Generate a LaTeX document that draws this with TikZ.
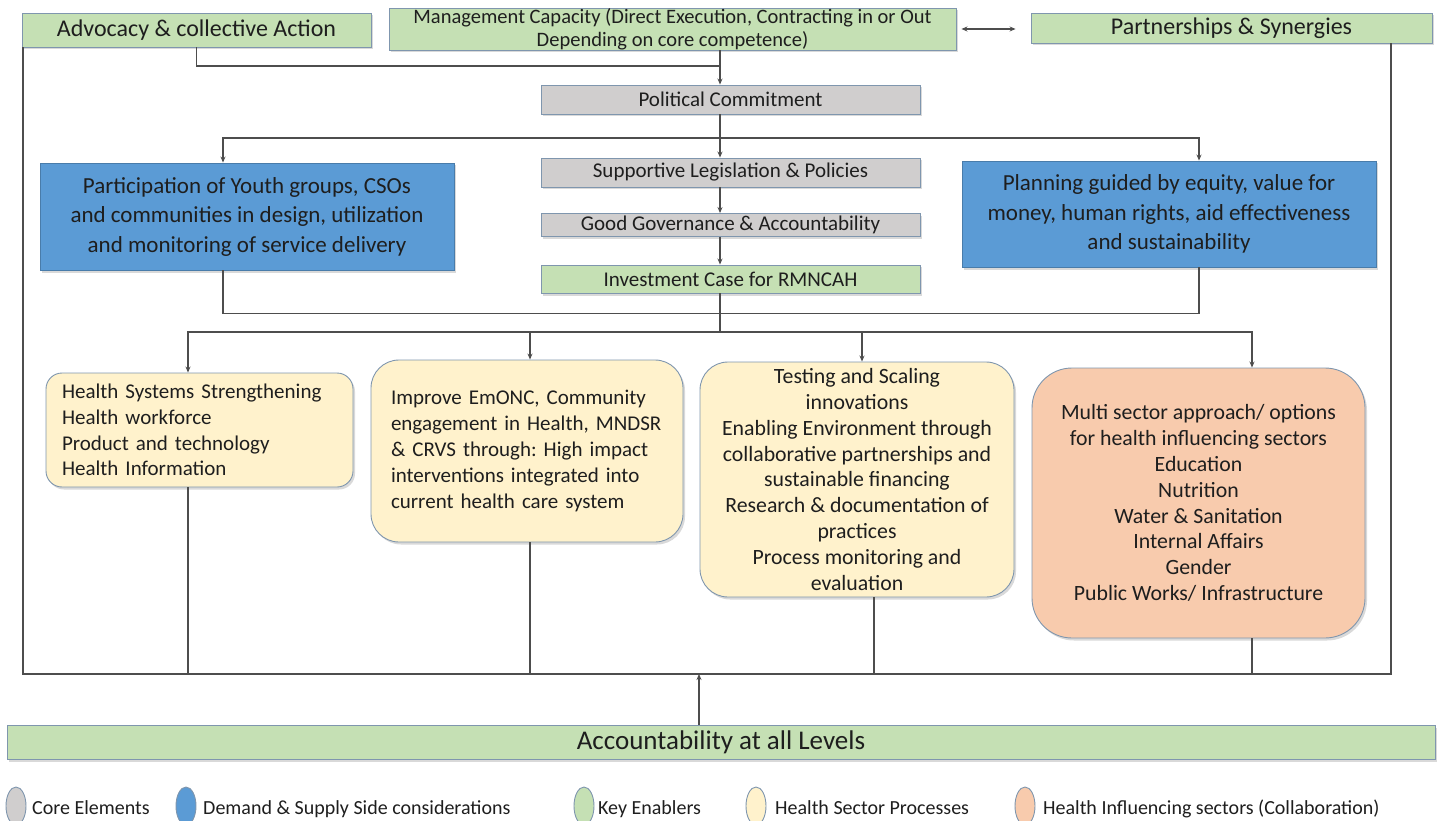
\documentclass[tikz,border=0pt]{standalone}
\usepackage{fontspec}
\setmainfont{Carlito}
\usetikzlibrary{arrows.meta,shadows,calc,shapes.geometric}
\definecolor{kgreen}{HTML}{C5E0B4}
\definecolor{kgray}{HTML}{D0CECE}
\definecolor{kblue}{HTML}{5B9BD5}
\definecolor{kyel}{HTML}{FFF2CC}
\definecolor{korange}{HTML}{F8CBAD}
\definecolor{kborder}{HTML}{7F96AE}
\definecolor{kline}{HTML}{4D4D4D}
\definecolor{ktext}{HTML}{1E1E1E}
\frenchspacing
\tikzset{
 box/.style={draw=kborder, line width=0.9pt, inner sep=0pt, text=ktext,
   drop shadow={shadow xshift=2pt,shadow yshift=-2.5pt,opacity=0.3}},
 greenbox/.style={box, fill=kgreen},
 graybox/.style={box, fill=kgray},
 bluebox/.style={box, fill=kblue, draw=kblue!80!black},
 yelbox/.style={box, fill=kyel, rounded corners=#1},
 orbox/.style={box, fill=korange, rounded corners=40pt},
 ln/.style={draw=kline, line width=1.1pt},
 arr/.style={ln, -{Stealth[length=6pt,width=5pt]}},
 darr/.style={ln, {Stealth[length=6pt,width=5pt]}-{Stealth[length=6pt,width=5pt]}},
 legdot/.style={ellipse, draw=kborder, line width=0.9pt, minimum width=20pt, minimum height=38pt, inner sep=0pt},
 legtext/.style={anchor=base west, inner sep=0pt, text=ktext, font=\fontsize{20}{24}\selectfont},
 big/.style={font=\fontsize{24}{28}\selectfont},
 mid/.style={font=\fontsize{21}{25.8}\selectfont},
 midb/.style={font=\fontsize{21.8}{25.8}\selectfont},
}
\begin{document}
\begin{tikzpicture}[x=1pt,y=-1pt]
\useasboundingbox (0,0) rectangle (1438,821);
% top row
\node[greenbox, big, minimum width=349pt, minimum height=34pt] (adv) at (196.5,30) {Advocacy \& collective Action};
\node[greenbox, minimum width=567pt, minimum height=42pt, align=center, font=\fontsize{20.5}{23}\selectfont] (mgmt) at (672.5,29) {Management Capacity (Direct Execution, Contracting in or Out\\Depending on core competence)};
\node[greenbox, big, minimum width=401pt, minimum height=30pt] (part) at (1231.5,28) {Partnerships \& Synergies};
% spine
\node[graybox, mid, minimum width=379pt, minimum height=29pt] (pol) at (730.5,99.5) {Political Commitment};
\node[graybox, mid, minimum width=379pt, minimum height=29pt] (sup) at (730.5,172.5) {Supportive Legislation \& Policies};
\node[graybox, mid, minimum width=379pt, minimum height=23pt] (gov) at (730.5,225) {Good Governance \& Accountability};
\node[greenbox, mid, minimum width=379pt, minimum height=28pt] (inv) at (730.5,279) {Investment Case for RMNCAH};
% blue
\node[bluebox, minimum width=414pt, minimum height=107pt, align=center, font=\fontsize{23}{29.5}\selectfont] (pcp) at (247,216.5) {Participation of Youth groups, CSOs\\and communities in design, utilization\\and monitoring of service delivery};
\node[bluebox, minimum width=414pt, minimum height=106pt, align=center, font=\fontsize{23}{29.5}\selectfont] (pln) at (1169,214) {Planning guided by equity, value for\\money, human rights, aid effectiveness\\and sustainability};
% bottom boxes
\node[yelbox=16pt, mid, minimum width=307pt, minimum height=114pt, text width=275pt, align=left] (b1) at (199.5,430) {Health Systems Strengthening\\Health workforce\\Product and technology\\Health Information};
\node[yelbox=28pt, mid, minimum width=312pt, minimum height=182pt, text width=272pt, align=left] (b2) at (527,451) {\makebox[272pt][s]{Improve EmONC, Community}\\\makebox[272pt][s]{engagement in Health, MNDSR}\\\makebox[272pt][s]{\& CRVS through: High impact}\\\makebox[272pt][s]{interventions integrated into}\\current health care system};
\node[yelbox=28pt, midb, minimum width=314pt, minimum height=235pt, align=center] (b3) at (857,479.5) {Testing and Scaling\\innovations\\Enabling Environment through\\collaborative partnerships and\\sustainable financing\\Research \& documentation of\\practices\\Process monitoring and\\evaluation};
\node[orbox, midb, minimum width=333pt, minimum height=270pt, align=center] (b4) at (1198.5,503) {Multi sector approach/ options\\for health influencing sectors\\Education\\Nutrition\\Water \& Sanitation\\Internal Affairs\\Gender\\Public Works/ Infrastructure};
% accountability
\node[greenbox, minimum width=1428pt, minimum height=34pt, font=\fontsize{27}{32}\selectfont] (acc) at (721,742) {Accountability at all Levels};
% connectors
\coordinate (sp) at (720,0);
\coordinate (j1) at (720,66);
\coordinate (j2) at (720,138);
\coordinate (j4) at (720,332);
\coordinate (fbl) at (23,674);
\coordinate (fbr) at (1391,674);
\draw[ln] (adv.south) |- (j1);
\draw[arr] (sp |- mgmt.south) -- (sp |- pol.north);
\draw[arr] (sp |- pol.south) -- (sp |- sup.north);
\draw[arr] (sp |- sup.south) -- (sp |- gov.north);
\draw[arr] (sp |- gov.south) -- (sp |- inv.north);
\draw[arr] (j2) -| ([xshift=-24pt]pcp.north);
\draw[arr] (j2) -| ([xshift=30pt]pln.north);
\draw[ln] ([xshift=-24pt]pcp.south) -- ++(0,43) -| ([xshift=30pt]pln.south);
\draw[ln] (sp |- inv.south) -- (j4);
\draw[arr] (j4) -| ([xshift=-11.5pt]b1.north);
\draw[arr] (j4) -| ([xshift=3pt]b2.north);
\draw[arr] (j4) -| ([xshift=5pt]b3.north);
\draw[arr] (j4) -| ([xshift=53.5pt]b4.north);
\draw[darr] ([xshift=5pt]mgmt.east) -- ([xshift=-15pt]mgmt.east -| part.west);
% frame
\draw[ln] (adv.south west -| fbl) -- (fbl) -- (fbr) -- (fbr |- part.south);
\draw[ln] ([xshift=-11.5pt]b1.south) -- ([xshift=-11.5pt]b1.south |- fbl);
\draw[ln] ([xshift=3pt]b2.south) -- ([xshift=3pt]b2.south |- fbl);
\draw[ln] ([xshift=17pt]b3.south) -- ([xshift=17pt]b3.south |- fbl);
\draw[ln] ([xshift=53.5pt]b4.south) -- ([xshift=53.5pt]b4.south |- fbl);
\draw[arr] ([xshift=-22pt]acc.north) -- ([xshift=-22pt]acc.north |- fbl);
% legend
\node[legdot, fill=kgray] (l1) at (16,806) {};
\node[legtext] (t1) at (32,814) {Core Elements};
\node[legdot, fill=kblue] (l2) at (186,806) {};
\node[legtext] (t2) at (203,814) {Demand \& Supply Side considerations};
\node[legdot, fill=kgreen] (l3) at (584,806) {};
\node[legtext] (t3) at (598,814) {Key Enablers};
\node[legdot, fill=kyel] (l4) at (756,806) {};
\node[legtext] (t4) at (775,814) {Health Sector Processes};
\node[legdot, fill=korange] (l5) at (1025,806) {};
\node[legtext] (t5) at (1043,814) {Health Influencing sectors (Collaboration)};
\end{tikzpicture}
\end{document}
